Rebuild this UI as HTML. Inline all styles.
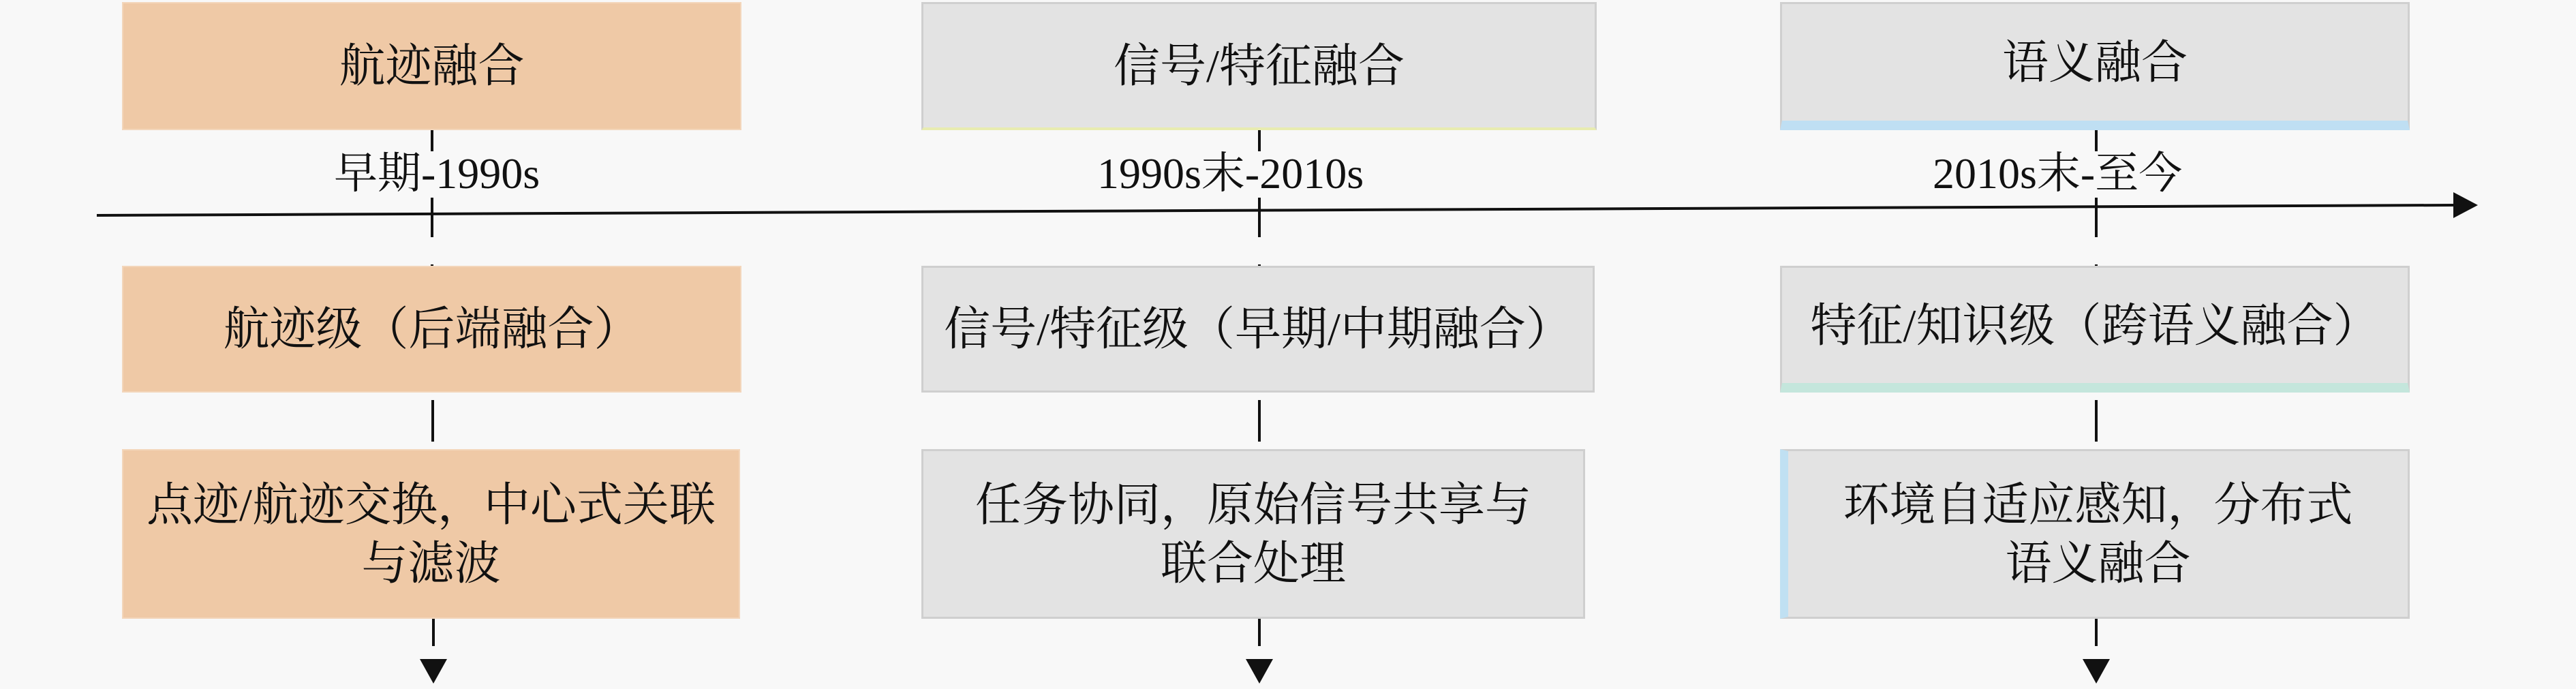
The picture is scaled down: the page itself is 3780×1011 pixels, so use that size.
<!DOCTYPE html>
<html><head><meta charset="utf-8"><style>
body{margin:0;width:3780px;height:1011px;background:#f8f8f8;position:relative;overflow:hidden;font-family:"Liberation Serif","Noto Serif CJK SC",serif;color:#111}
.b{position:absolute;box-sizing:border-box;display:flex;align-items:center;justify-content:center;text-align:center;font-size:68px;line-height:86px}
.o{background:#efc9a6;border:2px solid #f3d6bb}
.g{background:#e3e3e3;border:3px solid #cfcfcf}
.l{position:absolute;font-size:64px;line-height:70px;white-space:nowrap}
.v{position:absolute;width:4px;background:#111}
.t{position:absolute;width:0;height:0;border-left:20px solid transparent;border-right:20px solid transparent;border-top:36px solid #111}
</style></head><body>
<svg width="3780" height="1011" style="position:absolute;left:0;top:0">
<line x1="142" y1="316" x2="3600" y2="301" stroke="#111" stroke-width="4"/>
<polygon points="3600,282 3636,301 3600,320" fill="#111"/>
</svg>
<!-- left -->
<div class="b o" style="left:179px;top:3px;width:909px;height:188px">航迹融合</div>
<div class="v" style="left:632px;top:191px;height:31px"></div>
<div class="l" style="left:490px;top:220px">早期-1990s</div>
<div class="v" style="left:632px;top:290px;height:58px"></div>
<div class="v" style="left:632px;top:388px;height:4px"></div>
<div class="b o" style="left:179px;top:390px;width:909px;height:186px">航迹级（后端融合）</div>
<div class="v" style="left:633px;top:587px;height:61px"></div>
<div class="b o" style="left:179px;top:659px;width:907px;height:249px">点迹/航迹交换，中心式关联<br>与滤波</div>
<div class="v" style="left:634px;top:908px;height:40px"></div>
<div class="t" style="left:616px;top:967px"></div>
<!-- middle -->
<div class="b g" style="left:1352px;top:3px;width:991px;height:188px;border-bottom:4px solid #e8ecb0">信号/特征融合</div>
<div class="v" style="left:1846px;top:191px;height:31px"></div>
<div class="l" style="left:1610px;top:220px">1990s末-2010s</div>
<div class="v" style="left:1846px;top:290px;height:58px"></div>
<div class="v" style="left:1846px;top:388px;height:4px"></div>
<div class="b g" style="left:1352px;top:390px;width:988px;height:186px">信号/特征级（早期/中期融合）</div>
<div class="v" style="left:1846px;top:587px;height:61px"></div>
<div class="b g" style="left:1352px;top:659px;width:974px;height:249px">任务协同，原始信号共享与<br>联合处理</div>
<div class="v" style="left:1846px;top:908px;height:40px"></div>
<div class="t" style="left:1828px;top:967px"></div>
<!-- right -->
<div class="b g" style="left:2612px;top:3px;width:924px;height:188px;border-bottom:14px solid #bfdff3">语义融合</div>
<div class="v" style="left:3074px;top:191px;height:31px"></div>
<div class="l" style="left:2836px;top:220px">2010s末-至今</div>
<div class="v" style="left:3074px;top:290px;height:58px"></div>
<div class="v" style="left:3074px;top:388px;height:4px"></div>
<div class="b g" style="left:2612px;top:390px;width:924px;height:186px;border-bottom:14px solid #c4e6dc">特征/知识级（跨语义融合）</div>
<div class="v" style="left:3074px;top:587px;height:61px"></div>
<div class="b g" style="left:2612px;top:659px;width:924px;height:249px;border-left:12px solid #c0e0f2">环境自适应感知，分布式<br>语义融合</div>
<div class="v" style="left:3074px;top:908px;height:40px"></div>
<div class="t" style="left:3056px;top:967px"></div>
</body></html>
